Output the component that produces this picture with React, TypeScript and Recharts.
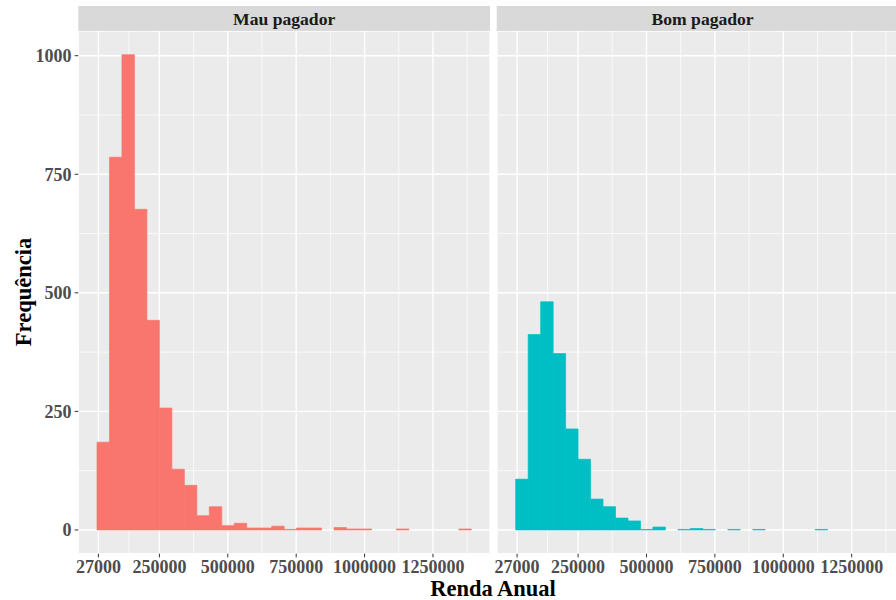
import { BarChart, Bar, XAxis, YAxis, CartesianGrid } from "recharts";

// histogram bins (30 bins, same breaks in both facets)
const binStart = 22000;
const binWidth = 45600;

const facets = ["Mau pagador", "Bom pagador"];
const mauCounts = [185, 786, 1002, 676, 442, 257, 128, 94, 30, 49, 9, 14, 4, 4, 8, 1, 4, 4, 0, 5, 2, 2, 0, 0, 2, 0, 0, 0, 0, 2];
const bomCounts = [107, 412, 481, 372, 213, 149, 65, 49, 25, 19, 1, 6, 0, 1, 3, 1, 0, 1, 0, 1, 0, 0, 0, 0, 1, 0, 0, 0, 0, 0];

const xTicks = [27000, 250000, 500000, 750000, 1000000, 1250000];
const xMinor = [138500, 375000, 625000, 875000, 1125000, 1375000];
const yTicks = [0, 250, 500, 750, 1000];
const yMinor = [125, 375, 625, 875];
const xDomain = [-46400, 1458400];
const yDomain = [-50.1, 1052.1];

const PANEL_W = 411.7;
const FONT = "'Liberation Serif', 'Times New Roman', serif";
const tickStyle = { fill: "#4D4D4D", fontSize: 18, fontWeight: 700, fontFamily: FONT };

// bar width in px = one bin on the x scale (tiny bit less so recharts keeps it as is)
const barPx = (binWidth * PANEL_W) / (xDomain[1] - xDomain[0]) - 0.004;

function Panel({ counts, fill, showY, left }: { counts: number[]; fill: string; showY: boolean; left: number }) {
  const data = counts.map((n, i) => ({ x: binStart + (i + 0.5) * binWidth, n }));
  const padLeft = showY ? 0 : 24;
  return (
    <div style={{ position: "absolute", left: left - padLeft, top: 0 }}>
      <BarChart
        width={(showY ? 78.3 : padLeft) + PANEL_W}
        height={600}
        data={data}
        margin={{ top: 31, right: 0, bottom: 0, left: padLeft }}
        barCategoryGap={0}
        barGap={0}
      >
        <CartesianGrid fill="#EBEBEB" stroke="#FFFFFF" strokeWidth={0.7} verticalValues={xMinor} horizontalValues={yMinor} />
        <CartesianGrid stroke="#FFFFFF" strokeWidth={1.4} />
        <XAxis
          dataKey="x"
          type="number"
          domain={xDomain}
          allowDataOverflow
          ticks={xTicks}
          interval={0}
          axisLine={false}
          tickLine={{ stroke: "#333333" }}
          tickSize={3.7}
          tickMargin={3}
          height={46.3}
          tick={tickStyle}
        />
        <YAxis
          type="number"
          domain={yDomain}
          allowDataOverflow
          ticks={yTicks}
          interval={0}
          hide={!showY}
          width={78.3}
          axisLine={false}
          tickLine={{ stroke: "#333333" }}
          tickSize={3.7}
          tickMargin={3}
          tick={tickStyle}
        />
        <Bar dataKey="n" fill={fill} stroke={fill} strokeWidth={0.7} barSize={barPx} isAnimationActive={false} />
      </BarChart>
    </div>
  );
}

export default function App() {
  return (
    <div style={{ position: "absolute", left: 0, top: 0, width: 896, height: 600, overflow: "hidden", background: "#FFFFFF" }}>
      <Panel counts={mauCounts} fill="#F8766D" showY left={0} />
      <Panel counts={bomCounts} fill="#00BFC4" showY={false} left={496.7} />
      <svg width={896} height={600} style={{ position: "absolute", left: 0, top: 0, pointerEvents: "none" }}>
        <rect x={78.3} y={6} width={PANEL_W} height={25} fill="#D9D9D9" />
        <rect x={496.7} y={6} width={PANEL_W} height={25} fill="#D9D9D9" />
        <text x={284.2} y={25} textAnchor="middle" fontFamily={FONT} fontWeight={700} fontSize={17.6} fill="#1A1A1A">
          {facets[0]}
        </text>
        <text x={702.6} y={25} textAnchor="middle" fontFamily={FONT} fontWeight={700} fontSize={17.6} fill="#1A1A1A">
          {facets[1]}
        </text>
        <text x={493} y={596} textAnchor="middle" fontFamily={FONT} fontWeight={700} fontSize={22.5} fill="#000000">
          Renda Anual
        </text>
        <text
          x={31}
          y={292}
          textAnchor="middle"
          transform="rotate(-90 31 292)"
          fontFamily={FONT}
          fontWeight={700}
          fontSize={22.5}
          fill="#000000"
        >
          Frequência
        </text>
      </svg>
    </div>
  );
}
